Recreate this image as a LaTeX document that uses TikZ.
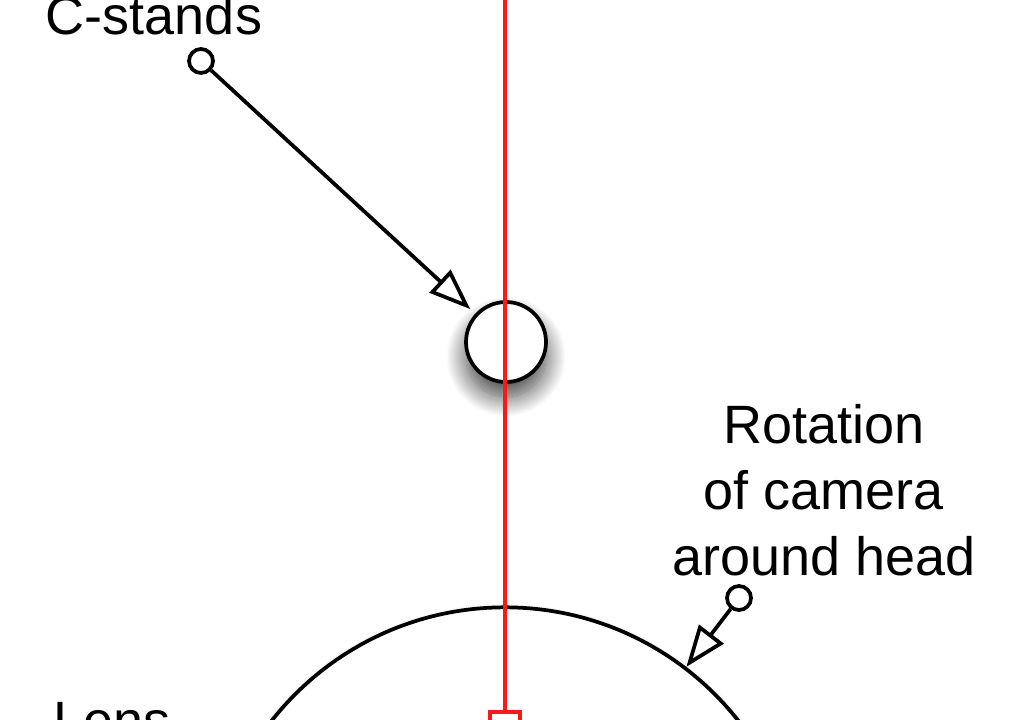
\documentclass[tikz,border=0pt]{standalone}
\usepackage{fontspec}
\setmainfont{Liberation Sans}
\usetikzlibrary{arrows.meta,shadows.blur}

\tikzset{every picture/.style={line width=2.8pt}}

\begin{document}
\begin{tikzpicture}[x=0.75pt,y=0.75pt,yscale=-1,xscale=1,
	pin/.style={draw,circle,fill=white,inner sep=0pt,minimum size=18pt},
	pointer/.style={-{Triangle[open,length=31pt,width=23pt]}},
	axis/.style={color={rgb, 255:red, 250; green, 25; blue, 20 },line width=2.4pt},
	label/.style={inner sep=0.75pt,font=\fontsize{40.5}{49.5}\selectfont,align=center}]
				\useasboundingbox (0,0) rectangle (1024,720);
				
				%Shape: Circle [id:head] 
				\node [draw,circle,fill=white,inner sep=0pt,minimum size=445pt,blur shadow={shadow xshift=0pt,shadow yshift=-2pt,shadow blur radius=5pt,shadow blur steps=12,shadow opacity=25}] (head) at (505,904) {};
				%Shape: Circle [id:stand] 
				\node [draw,circle,fill=white,inner sep=0pt,minimum size=60pt,blur shadow={shadow xshift=0pt,shadow yshift=-11pt,shadow blur radius=15pt,shadow blur steps=25,shadow opacity=75}] (stand) at (506,342) {};
				%Shape: Square [id:lens] 
				\node [draw,axis,fill=white,rectangle,inner sep=0pt,minimum size=22.5pt] (lens) at (505,727) {};
				%Shape: Circle [id:standpin] 
				\node [pin] (standpin) at (201,61) {};
				%Shape: Circle [id:headpin] 
				\node [pin] (headpin) at (739,598) {};
				
				%Straight Lines [id:axis] 
				\coordinate (axistop) at (505,-5);
				\draw [axis] (axistop) -- (lens.north) ;
				%Straight Lines [id:standarrow] 
				\draw [pointer,shorten >=5pt] (standpin) -- (stand) ;
				%Straight Lines [id:headarrow] 
				\draw [pointer] (headpin) -- (head) ;
				
				% Text Node
				\node [label,anchor=base] (cstands) at (154,35) {C-stands};
				% Text Node
				\node [label,anchor=base] (lenslabel) at (112,739) {Lens};
				% Text Node
				\node [label,anchor=base] (rotation) at (824,575) {Rotation\\of camera\\around head};
				
\end{tikzpicture}
\end{document}
